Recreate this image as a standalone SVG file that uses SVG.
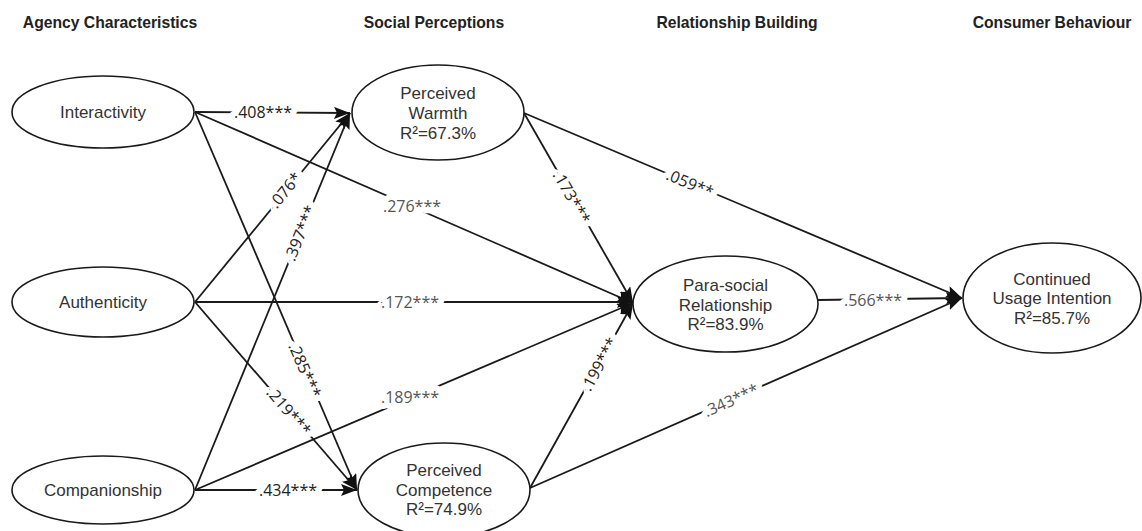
<svg xmlns="http://www.w3.org/2000/svg" width="1142" height="531" viewBox="0 0 1142 531">
<style>
.hdr{font-family:"Liberation Sans",Arial,sans-serif;font-weight:bold;font-size:15.7px;fill:#222;text-anchor:middle}
.node ellipse{fill:#fff;stroke:#1a1a1a;stroke-width:1.6}
.node text{font-family:"Liberation Sans",Arial,sans-serif;font-size:17px;fill:#333;text-anchor:middle}
.edge{stroke:#1a1a1a;stroke-width:1.8;fill:none;marker-end:url(#arr)}
.lbl{font-family:"Open Sans","DejaVu Sans",sans-serif;font-size:16px;text-anchor:middle;dominant-baseline:central;paint-order:stroke;stroke:#fff;stroke-width:12px;stroke-linejoin:round}
.dk{fill:#222}
.gy{fill:#555}
</style>
<defs>
<marker id="arr" markerUnits="userSpaceOnUse" markerWidth="16" markerHeight="12" refX="16" refY="6" orient="auto">
<path d="M0,0 L16,6 L0,12 L3,6 z" fill="#111"/>
</marker>
</defs>
<g id="headers">
<text class="hdr" x="110" y="28">Agency Characteristics</text>
<text class="hdr" x="434" y="28">Social Perceptions</text>
<text class="hdr" x="737" y="28">Relationship Building</text>
<text class="hdr" x="1052" y="28">Consumer Behaviour</text>
</g>
<g id="connectors">
<line class="edge" x1="195" y1="112" x2="350" y2="113"/>
<line class="edge" x1="195" y1="112" x2="633" y2="303"/>
<line class="edge" x1="195" y1="112" x2="357" y2="490"/>
<line class="edge" x1="195" y1="302" x2="350" y2="113"/>
<line class="edge" x1="195" y1="302" x2="633" y2="302"/>
<line class="edge" x1="195" y1="302" x2="357" y2="490"/>
<line class="edge" x1="195" y1="490" x2="350" y2="113"/>
<line class="edge" x1="195" y1="490" x2="633" y2="303"/>
<line class="edge" x1="195" y1="490" x2="357" y2="490"/>
<line class="edge" x1="524" y1="113" x2="633" y2="303"/>
<line class="edge" x1="524" y1="113" x2="962" y2="298"/>
<line class="edge" x1="530" y1="488" x2="633" y2="303"/>
<line class="edge" x1="530" y1="488" x2="962" y2="298"/>
<line class="edge" x1="818" y1="300" x2="962" y2="298"/>
<g id="labels">
<text class="lbl dk" x="263" y="112">.408***</text>
<text class="lbl gy" x="412" y="206">.276***</text>
<text class="lbl gy" x="410" y="302">.172***</text>
<text class="lbl gy" x="410" y="397">.189***</text>
<text class="lbl dk" x="288" y="490">.434***</text>
<text class="lbl gy" x="873" y="300">.566***</text>
<text class="lbl dk" transform="translate(285,190) rotate(-50.6)">.076*</text>
<text class="lbl dk" transform="translate(300,233) rotate(-67.6)">.397***</text>
<text class="lbl dk" transform="translate(305,370) rotate(66.8)">.285***</text>
<text class="lbl dk" transform="translate(289,411) rotate(49.2)">.219***</text>
<text class="lbl dk" transform="translate(572,197) rotate(60.2)">.173***</text>
<text class="lbl dk" transform="translate(690,183) rotate(22.8)">.059**</text>
<text class="lbl dk" transform="translate(599,364) rotate(-61)">.199***</text>
<text class="lbl gy" transform="translate(731,400) rotate(-23.9)">.343***</text>
</g>
</g>
<g id="interactivity" class="node">
<ellipse cx="103" cy="112" rx="91" ry="36"/>
<text x="103" y="118">Interactivity</text>
</g>
<g id="authenticity" class="node">
<ellipse cx="103" cy="302" rx="91" ry="35"/>
<text x="103" y="308">Authenticity</text>
</g>
<g id="companionship" class="node">
<ellipse cx="103" cy="490" rx="91" ry="34"/>
<text x="103" y="496">Companionship</text>
</g>
<g id="warmth" class="node">
<ellipse cx="438" cy="112.5" rx="86" ry="47.5"/>
<text x="438" y="99">Perceived</text>
<text x="438" y="119">Warmth</text>
<text x="438" y="139">R²=67.3%</text>
</g>
<g id="competence" class="node">
<ellipse cx="444" cy="490" rx="86" ry="47"/>
<text x="444" y="476">Perceived</text>
<text x="444" y="496">Competence</text>
<text x="444" y="515">R²=74.9%</text>
</g>
<g id="parasocial" class="node">
<ellipse cx="725.5" cy="304" rx="92.5" ry="48"/>
<text x="725.5" y="291">Para-social</text>
<text x="725.5" y="311">Relationship</text>
<text x="725.5" y="330">R²=83.9%</text>
</g>
<g id="continued" class="node">
<ellipse cx="1052" cy="298" rx="89" ry="55"/>
<text x="1052" y="285">Continued</text>
<text x="1052" y="304">Usage Intention</text>
<text x="1052" y="324">R²=85.7%</text>
</g>
</svg>
